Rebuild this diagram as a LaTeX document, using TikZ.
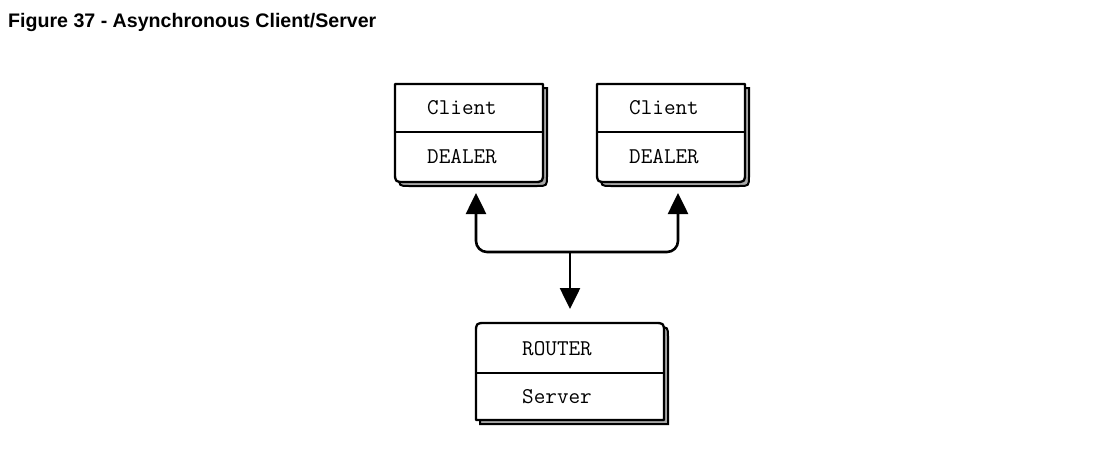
\documentclass[tikz,border=0pt]{standalone}
\usepackage{fontspec}
\newfontfamily\titlefont{Liberation Sans}
\usetikzlibrary{arrows.meta}
\begin{document}
\begin{tikzpicture}[x=1pt,y=-1pt,
  boxline/.style={line width=2.3pt, draw=black, fill=white, line join=round},
  shadowbox/.style={line width=2pt, draw=black, fill=gray!70},
  divider/.style={line width=2.3pt},
  lbl/.style={font=\ttfamily\fontsize{22.5}{24}\selectfont, inner sep=0pt, anchor=center},
  conn/.style={line width=2.6pt, rounded corners=11pt, {Triangle[length=21pt,width=20pt]}-{Triangle[length=21pt,width=20pt]}},
  downconn/.style={line width=2.6pt, -{Triangle[length=21pt,width=20pt]}},
  titlest/.style={font=\titlefont\bfseries\fontsize{19.6}{22}\selectfont, anchor=base west, inner sep=0pt}
]
\useasboundingbox (0,0) rectangle (1109,450);
\fill[white] (0,0) rectangle (1109,450);
\node[titlest] (title) at (8,27) {Figure 37 - Asynchronous Client/Server};

% Client 1 (x 395-543, y 84-182)
\path[shadowbox] (399,88) -- (399,176) .. controls (399,186) .. (409,186) -- (537,186) .. controls (547,186) .. (547,176) -- (547,88) -- cycle;
\path[boxline] (395,84) -- (395,172) .. controls (395,182) .. (405,182) -- (533,182) .. controls (543,182) .. (543,172) -- (543,84) -- cycle;
\draw[divider] (395,132) -- (543,132);
\node[lbl] (c1top) at (462,108) {Client};
\node[lbl] (c1bot) at (462,157) {DEALER};

% Client 2 (x 597-745)
\path[shadowbox] (601,88) -- (601,176) .. controls (601,186) .. (611,186) -- (739,186) .. controls (749,186) .. (749,176) -- (749,88) -- cycle;
\path[boxline] (597,84) -- (597,172) .. controls (597,182) .. (607,182) -- (735,182) .. controls (745,182) .. (745,172) -- (745,84) -- cycle;
\draw[divider] (597,132) -- (745,132);
\node[lbl] (c2top) at (664,108) {Client};
\node[lbl] (c2bot) at (664,157) {DEALER};

% Server (x 476-664, y 323-420)
\path[shadowbox] (480,424) -- (480,337) .. controls (480,327) .. (490,327) -- (658,327) .. controls (668,327) .. (668,337) -- (668,424) -- cycle;
\path[boxline] (476,420) -- (476,333) .. controls (476,323) .. (486,323) -- (654,323) .. controls (664,323) .. (664,333) -- (664,420) -- cycle;
\draw[divider] (476,373) -- (664,373);
\node[lbl] (stop) at (557,349) {ROUTER};
\node[lbl] (sbot) at (557,397) {Server};

% connectors
\coordinate (a1) at (476,193);
\coordinate (a2) at (678,193);
\coordinate (j) at (570,252);
\coordinate (s) at (570,309);
\draw[conn] (a1) |- (j) -| (a2);
\draw[downconn] (j) -- (s);
\end{tikzpicture}
\end{document}
